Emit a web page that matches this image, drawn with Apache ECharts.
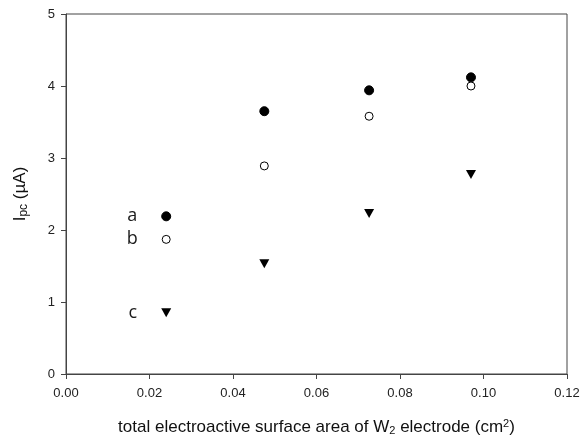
<!DOCTYPE html>
<html>
<head>
<meta charset="utf-8">
<script src="https://cdn.jsdelivr.net/npm/echarts@6/dist/echarts.min.js"></script>
<style>
  html, body { margin: 0; padding: 0; background: #fff; }
  #chart { width: 583px; height: 437px; }
</style>
</head>
<body>
<div id="chart"></div>
<script>
// Electrode surface area (cm^2) and peak currents Ipc (uA) for three conditions
const area = [0.024, 0.0475, 0.0726, 0.097];
const seriesA = [2.19, 3.65, 3.94, 4.12];
const seriesB = [1.87, 2.89, 3.58, 4.00];
const seriesC = [0.85, 1.53, 2.23, 2.77];
const seriesNames = ['a', 'b', 'c'];
const xTicks = { min: 0, max: 0.12, step: 0.02 };
const yTicks = { min: 0, max: 5, step: 1 };

function pairs(ys) {
  return ys.map((y, i) => [area[i], y]);
}

// Tag the first point of each series with its letter
function lettered(ys, letter) {
  return pairs(ys).map((p, i) => i === 0
    ? { value: p, label: { show: true, formatter: letter } }
    : { value: p });
}

const letterLabel = {
  position: 'left',
  distance: 24,
  fontSize: 18,
  color: '#1a1a1a',
  fontFamily: 'Open Sans'
};

const titleFont = 'Liberation Sans';

const chart = echarts.init(document.getElementById('chart'), null, { renderer: 'canvas' });

chart.setOption({
  animation: false,
  backgroundColor: '#fff',
  grid: {
    left: 66, right: 16, top: 14, bottom: 63,
    outerBoundsMode: 'none',
    containLabel: false,
    show: true, borderColor: '#444', borderWidth: 1
  },
  xAxis: {
    type: 'value',
    min: xTicks.min, max: xTicks.max, interval: xTicks.step,
    axisLine: { show: true, onZero: false, lineStyle: { color: '#444', width: 1 } },
    axisTick: { show: true, inside: false, length: 5, lineStyle: { color: '#444' } },
    splitLine: { show: false },
    axisLabel: {
      color: '#222', fontSize: 13, fontFamily: titleFont, margin: 13,
      formatter: v => v.toFixed(2)
    },
    name: '{t|total electroactive surface area of W}{sub|2}{t| electrode (cm}{sup|2}{t|)}',
    nameLocation: 'middle',
    nameGap: 44,
    nameTextStyle: {
      rich: {
        t: { fontSize: 17, fontFamily: titleFont, color: '#111' },
        sub: { fontSize: 11, fontFamily: titleFont, color: '#111', verticalAlign: 'bottom', padding: [7, 0, 0, 0] },
        sup: { fontSize: 11, fontFamily: titleFont, color: '#111', verticalAlign: 'top', padding: [0, 0, 7, 0] }
      }
    }
  },
  yAxis: {
    type: 'value',
    min: yTicks.min, max: yTicks.max, interval: yTicks.step,
    axisLine: { show: true, onZero: false, lineStyle: { color: '#444', width: 1 } },
    axisTick: { show: true, inside: false, length: 5, lineStyle: { color: '#444' } },
    splitLine: { show: false },
    axisLabel: {
      color: '#222', fontSize: 13, fontFamily: titleFont, margin: 11
    },
    name: '{t|I}{sub|pc}{t| (\u00b5A)}',
    nameLocation: 'middle',
    nameGap: 36,
    nameTextStyle: {
      rich: {
        t: { fontSize: 17, fontFamily: titleFont, color: '#111' },
        sub: { fontSize: 12, fontFamily: titleFont, color: '#111', verticalAlign: 'bottom', padding: [7, 0, 0, 0] }
      }
    }
  },
  series: [
    {
      name: seriesNames[0],
      type: 'scatter',
      data: lettered(seriesA, seriesNames[0]),
      symbol: 'circle',
      symbolSize: 9,
      itemStyle: { color: '#000', borderColor: '#000', borderWidth: 1, opacity: 1 },
      label: letterLabel
    },
    {
      name: seriesNames[1],
      type: 'scatter',
      data: lettered(seriesB, seriesNames[1]),
      symbol: 'circle',
      symbolSize: 8,
      itemStyle: { color: '#fff', borderColor: '#000', borderWidth: 1, opacity: 1 },
      label: letterLabel
    },
    {
      name: seriesNames[2],
      type: 'scatter',
      data: lettered(seriesC, seriesNames[2]),
      symbol: 'triangle',
      symbolRotate: 180,
      symbolSize: [10, 9],
      itemStyle: { color: '#000', borderColor: '#000', borderWidth: 0, opacity: 1 },
      label: letterLabel
    }
  ]
});
</script>
</body>
</html>
